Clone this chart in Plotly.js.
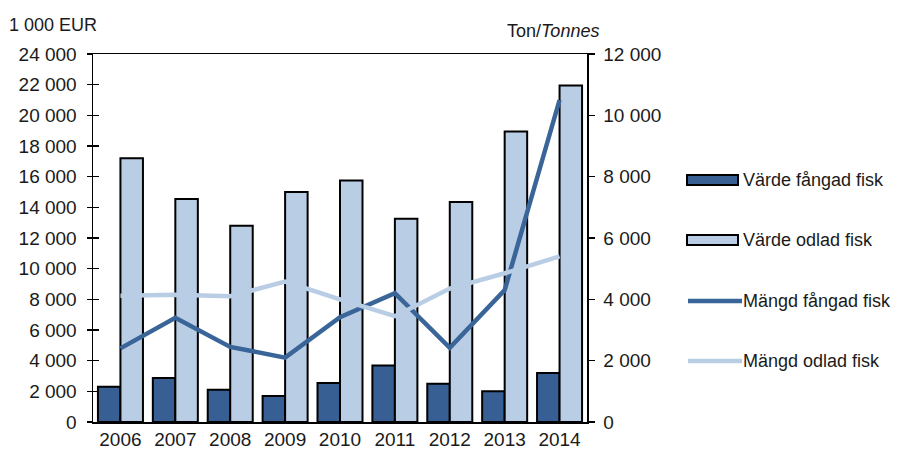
<!DOCTYPE html>
<html><head><meta charset="utf-8">
<script src="https://cdn.plot.ly/plotly-3.0.1.min.js"></script>
<style>html,body{margin:0;padding:0;background:#fff}#chart{width:899px;height:450px}</style>
</head><body><div id="chart"></div>
<script>
const years = ['2006','2007','2008','2009','2010','2011','2012','2013','2014'];
const vardeFangad = [2300, 2870, 2100, 1700, 2550, 3680, 2500, 2000, 3200];
const vardeOdlad = [17200, 14550, 12800, 15000, 15750, 13250, 14350, 18950, 21950];
const mangdFangad = [2400, 3400, 2450, 2100, 3420, 4200, 2420, 4300, 10500];
const mangdOdlad = [4120, 4150, 4100, 4580, 4000, 3450, 4350, 4850, 5400];
const leftTicks = [0,2000,4000,6000,8000,10000,12000,14000,16000,18000,20000,22000,24000];
const rightTicks = [0,2000,4000,6000,8000,10000,12000];
const names = ['Värde fångad fisk','Värde odlad fisk','Mängd fångad fisk','Mängd odlad fisk'];
const darkBlue = '#375f93', lightBlue = '#b9cde5';
const fam = 'Liberation Sans, Arial, sans-serif';
const font = {family:fam, size:18, color:'#1a1a1a'};
const tfont = {family:fam, size:19, color:'#1a1a1a'};

const traces = [
  {type:'bar', x:years, y:vardeFangad, name:names[0], marker:{color:darkBlue, line:{color:'#000', width:2}}},
  {type:'bar', x:years, y:vardeOdlad, name:names[1], marker:{color:lightBlue, line:{color:'#000', width:2}}},
  {type:'scatter', mode:'lines', x:years, y:mangdFangad, yaxis:'y2', name:names[2], line:{color:'#3a6599', width:4.5}},
  {type:'scatter', mode:'lines', x:years, y:mangdOdlad, yaxis:'y2', name:names[3], line:{color:lightBlue, width:4.5}},
  {type:'scatter', x:[], y:[], yaxis:'y3', showlegend:false, hoverinfo:'skip'}
];

const L = 93, W = 494;
const px = v => (v - L) / W;
const shapes = [], annotations = [];
const legY = [180, 240, 301, 361];
const T = 54, H = 368;
const py = v => 1 - (v - T) / H;
legY.forEach((y, i) => {
  if (i < 2) {
    shapes.push({type:'rect', xref:'paper', yref:'paper', x0:px(687), x1:px(738), y0:py(y-5), y1:py(y+5),
      fillcolor: i===0 ? darkBlue : lightBlue, line:{color:'#000', width:2}});
  } else {
    shapes.push({type:'line', xref:'paper', yref:'paper', x0:px(688), x1:px(742), y0:py(y), y1:py(y),
      line:{color: i===2 ? '#3a6599' : lightBlue, width:4.5}});
  }
  annotations.push({xref:'paper', yref:'paper', x:px(741), y:py(y), xanchor:'left', yanchor:'middle',
    text:names[i], showarrow:false, font:font});
});
annotations.push({xref:'paper', yref:'paper', x:px(7), y:py(25), xanchor:'left', yanchor:'middle',
  text:'1 000 EUR', showarrow:false, font:font});
annotations.push({xref:'paper', yref:'paper', x:px(601), y:py(31), xanchor:'right', yanchor:'middle',
  text:'Ton/<i>Tonnes</i>', showarrow:false, font:font});

const layout = {
  width:899, height:450,
  margin:{l:L, r:899-L-W, t:T, b:450-T-H},
  paper_bgcolor:'#fff', plot_bgcolor:'#fff',
  separators:', ',
  showlegend:false,
  barmode:'group', bargap:0.18, bargroupgap:0,
  font:font,
  xaxis:{type:'category', showline:true, linecolor:'#000', linewidth:1.5, mirror:true,
    ticks:'', tickfont:tfont, showgrid:false, zeroline:false, ticklabelstandoff:0},
  yaxis:{range:[0,24000], tickvals:leftTicks, tickformat:',d', showline:true, linecolor:'#000', linewidth:1.5,
    ticks:'outside', ticklen:5, tickcolor:'#000', tickwidth:1.5, showgrid:false, zeroline:false, tickfont:tfont, ticklabelstandoff:6},
  yaxis3:{range:[0,24000], overlaying:'y', side:'left', tickvals:leftTicks, showticklabels:false,
    ticks:'inside', ticklen:6, tickcolor:'#000', tickwidth:1.5, showline:false, showgrid:false, zeroline:false},
  yaxis2:{range:[0,12000], overlaying:'y', side:'right', tickvals:rightTicks, tickformat:',d', showline:true,
    linecolor:'#000', linewidth:1.5, ticks:'outside', ticklen:6, tickcolor:'#000', tickwidth:1.5,
    showgrid:false, zeroline:false, tickfont:tfont, ticklabelstandoff:5},
  shapes:shapes, annotations:annotations
};
Plotly.newPlot('chart', traces, layout, {staticPlot:true, displayModeBar:false});
</script></body></html>
